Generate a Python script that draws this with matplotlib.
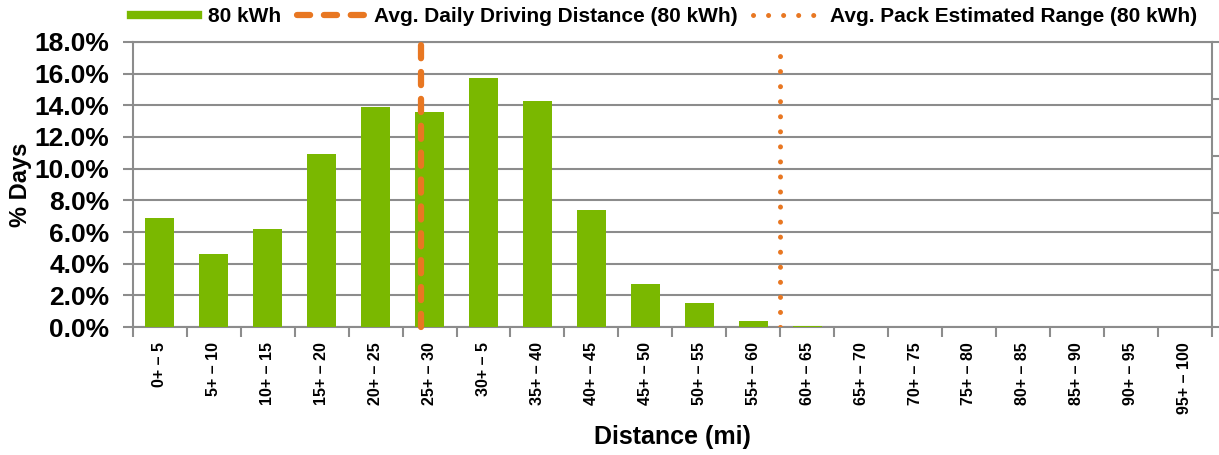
import numpy as np
import matplotlib
matplotlib.use('Agg')
import matplotlib.pyplot as plt
from matplotlib.ticker import FixedLocator, FuncFormatter
from matplotlib.lines import Line2D

plt.rcParams['font.family'] = ['Liberation Sans', 'DejaVu Sans']
plt.rcParams['font.weight'] = 'bold'

categories = ['0+ – 5', '5+ – 10', '10+ – 15', '15+ – 20', '20+ – 25', '25+ – 30',
              '30+ – 5', '35+ – 40', '40+ – 45', '45+ – 50', '50+ – 55', '55+ – 60',
              '60+ – 65', '65+ – 70', '70+ – 75', '75+ – 80', '80+ – 85', '85+ – 90',
              '90+ – 95', '95+ – 100']
pct_days = [6.9, 4.6, 6.2, 10.9, 13.9, 13.6, 15.7, 14.3, 7.4, 2.7, 1.5, 0.4,
            0.05, 0.02, 0, 0, 0, 0, 0, 0]
avg_daily_mi = 26.7
avg_range_mi = 60.0

green = '#7AB800'
orange = '#E87722'
gray = '#8C8C8C'
dash_ls = (0, (2.1, 2.2))
dot_ls = (0, (0.01, 3.0))

fig = plt.figure(figsize=(12.19, 4.55), dpi=100)
ax = fig.add_axes([0.109, 0.281, 0.885, 0.627])

x = np.arange(len(categories))
ax.bar(x, pct_days, width=0.54, color=green, zorder=3)

# bins are 5 miles wide, bar i is centred on index i
ax.plot([avg_daily_mi / 5 - 0.5] * 2, [0, 18], color=orange, lw=4.5, ls=dash_ls,
        dash_capstyle='round', zorder=4, clip_on=False)
ax.plot([avg_range_mi / 5 - 0.5] * 2, [0, 17.5], color=orange, lw=3.6, ls=dot_ls,
        dash_capstyle='round', zorder=4)

ax.set_xlim(-0.5, len(categories) - 0.5)
ax.set_ylim(0, 18)
ax.set_yticks(np.arange(0, 18.1, 2))
ax.yaxis.set_major_formatter(FuncFormatter(lambda v, p: f'{v:.1f}%'))
ax.yaxis.grid(True, color=gray, lw=1.5, zorder=0)

ax.set_xticks(x)
ax.set_xticklabels(categories, rotation=90, fontsize=11.5, fontweight='bold')
ax.xaxis.set_minor_locator(FixedLocator(np.arange(-0.5, len(categories), 1)))
ax.tick_params(axis='x', which='major', length=0, pad=11)
ax.tick_params(axis='x', which='minor', length=7, width=1.5, color=gray)
ax.tick_params(axis='y', length=7, width=1.5, color=gray, labelsize=19, pad=10)
for lab in ax.get_yticklabels():
    lab.set_fontweight('bold')

for s in ['left', 'bottom', 'right', 'top']:
    ax.spines[s].set_color(gray)
    ax.spines[s].set_linewidth(1.5)

ax2 = ax.twinx()
ax2.set_ylim(0, 18)
ax2.set_yticks(np.linspace(0, 18, 6))
ax2.set_yticklabels([])
ax2.tick_params(axis='y', length=7, width=1.5, color=gray)
for s in ax2.spines.values():
    s.set_visible(False)

ax.set_ylabel('% Days', fontsize=17, fontweight='bold', labelpad=2)
ax.set_xlabel('Distance (mi)', fontsize=18, fontweight='bold', labelpad=8)

handles = [Line2D([], [], color=green, lw=6),
           Line2D([], [], color=orange, lw=4.5, ls=dash_ls, dash_capstyle='round'),
           Line2D([], [], color=orange, lw=3.6, ls=dot_ls, dash_capstyle='round')]
labels = ['80 kWh', 'Avg. Daily Driving Distance (80 kWh)',
          'Avg. Pack Estimated Range (80 kWh)']
fig.legend(handles, labels, loc='upper center', ncol=3,
           bbox_to_anchor=(0.545, 1.025), frameon=False,
           handlelength=3.2, columnspacing=0.75, handletextpad=0.5,
           prop={'weight': 'bold', 'size': 15})

fig.savefig('out.png', dpi=100)
